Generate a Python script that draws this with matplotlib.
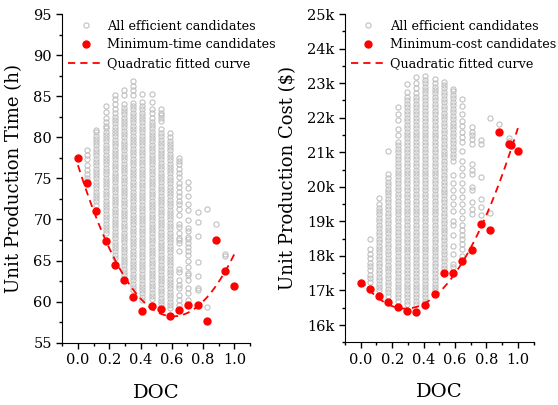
import numpy as np
import matplotlib.pyplot as plt
from matplotlib.ticker import MultipleLocator, FuncFormatter

plt.rcParams['font.family'] = ['DejaVu Serif']

doc = [0.0, 0.059, 0.118, 0.176, 0.235, 0.294, 0.353, 0.412, 0.471,
       0.529, 0.588, 0.647, 0.706, 0.765, 0.824, 0.882, 0.941, 1.0]

# efficient candidates per DOC value (index 1..16 of doc), time in h
time_candidates = [
    [74.7, 75.0, 75.5, 76.0, 76.6, 77.4, 77.8, 78.5],
    [71.8, 72.2, 72.6, 73.0, 73.4, 73.8, 74.2, 74.6, 75.0, 75.4, 75.8, 76.2, 76.6, 77.0, 77.4, 77.8,
     78.2, 78.6, 79.0, 79.4, 79.8, 80.2, 80.6, 80.9],
    [68.3, 68.7, 69.1, 69.5, 69.9, 70.3, 70.7, 71.1, 71.5, 71.9, 72.3, 72.7, 73.1, 73.5, 73.9, 74.3,
     74.7, 75.1, 75.5, 75.9, 76.3, 76.7, 77.1, 77.5, 77.9, 78.3, 78.7, 79.1, 79.5, 79.9, 80.3, 80.7,
     81.1, 81.4, 81.9, 82.3, 83.1, 83.8],
    [65.3, 65.7, 66.1, 66.5, 66.9, 67.3, 67.7, 68.1, 68.5, 68.9, 69.3, 69.7, 70.1, 70.5, 70.9, 71.3,
     71.7, 72.1, 72.5, 72.9, 73.3, 73.7, 74.1, 74.5, 74.9, 75.3, 75.7, 76.1, 76.5, 76.9, 77.3, 77.7,
     78.1, 78.5, 78.9, 79.3, 79.7, 80.1, 80.5, 80.9, 81.3, 81.7, 82.1, 82.5, 82.9, 83.5, 84.1, 84.7,
     85.1],
    [63.2, 63.6, 64.0, 64.4, 64.8, 65.2, 65.6, 66.0, 66.4, 66.8, 67.2, 67.6, 68.0, 68.4, 68.8, 69.2,
     69.6, 70.0, 70.4, 70.8, 71.2, 71.6, 72.0, 72.4, 72.8, 73.2, 73.6, 74.0, 74.4, 74.8, 75.2, 75.6,
     76.0, 76.4, 76.8, 77.2, 77.6, 78.0, 78.4, 78.8, 79.2, 79.6, 80.0, 80.4, 80.8, 81.2, 81.6, 82.0,
     82.4, 82.8, 83.2, 83.6, 84.1, 85.1, 85.7],
    [61.4, 61.8, 62.2, 62.6, 63.0, 63.4, 63.8, 64.2, 64.6, 65.0, 65.4, 65.8, 66.2, 66.6, 67.0, 67.4,
     67.8, 68.2, 68.6, 69.0, 69.4, 69.8, 70.2, 70.6, 71.0, 71.4, 71.8, 72.2, 72.6, 73.0, 73.4, 73.8,
     74.2, 74.6, 75.0, 75.4, 75.8, 76.2, 76.6, 77.0, 77.4, 77.8, 78.2, 78.6, 79.0, 79.4, 79.8, 80.2,
     80.6, 81.0, 81.4, 81.8, 82.2, 82.6, 83.0, 83.4, 83.8, 84.2, 85.1, 85.7, 86.3, 86.9],
    [60.2, 60.6, 61.0, 61.4, 61.8, 62.2, 62.6, 63.0, 63.4, 63.8, 64.2, 64.6, 65.0, 65.4, 65.8, 66.2,
     66.6, 67.0, 67.4, 67.8, 68.2, 68.6, 69.0, 69.4, 69.8, 70.2, 70.6, 71.0, 71.4, 71.8, 72.2, 72.6,
     73.0, 73.4, 73.8, 74.2, 74.6, 75.0, 75.4, 75.8, 76.2, 76.6, 77.0, 77.4, 77.8, 78.2, 78.6, 79.0,
     79.4, 79.8, 80.2, 80.6, 81.0, 81.4, 81.8, 82.2, 82.6, 83.0, 83.4, 83.8, 84.3, 85.3],
    [60.3, 60.7, 61.1, 61.5, 61.9, 62.3, 62.7, 63.1, 63.5, 63.9, 64.3, 64.7, 65.1, 65.5, 65.9, 66.3,
     66.7, 67.1, 67.5, 67.9, 68.3, 68.7, 69.1, 69.5, 69.9, 70.3, 70.7, 71.1, 71.5, 71.9, 72.3, 72.7,
     73.1, 73.5, 73.9, 74.3, 74.7, 75.1, 75.5, 75.9, 76.3, 76.7, 77.1, 77.5, 77.9, 78.3, 78.7, 79.1,
     79.5, 79.9, 80.3, 80.7, 81.1, 81.5, 81.9, 82.3, 82.9, 83.5, 84.3, 85.3],
    [59.7, 60.1, 60.5, 60.9, 61.3, 61.7, 62.1, 62.5, 62.9, 63.3, 63.7, 64.1, 64.5, 64.9, 65.3, 65.7,
     66.1, 66.5, 66.9, 67.3, 67.7, 68.1, 68.5, 68.9, 69.3, 69.7, 70.1, 70.5, 70.9, 71.3, 71.7, 72.1,
     72.5, 72.9, 73.3, 73.7, 74.1, 74.5, 74.9, 75.3, 75.7, 76.1, 76.5, 76.9, 77.3, 77.7, 78.1, 78.5,
     78.9, 79.3, 79.7, 80.1, 80.5, 81.0, 82.0, 82.3, 82.7, 83.0, 83.4],
    [59.2, 59.6, 60.0, 60.4, 60.8, 61.2, 61.6, 62.0, 62.4, 62.8, 63.2, 63.6, 64.0, 64.4, 64.8, 65.2,
     65.6, 66.0, 66.4, 66.8, 67.2, 67.6, 68.0, 68.4, 68.8, 69.2, 69.6, 70.0, 70.4, 70.8, 71.2, 71.6,
     72.0, 72.4, 72.8, 73.2, 73.6, 74.0, 74.4, 74.8, 75.2, 75.6, 76.0, 76.4, 76.8, 77.2, 77.6, 78.0,
     78.4, 78.8, 79.2, 79.6, 80.0, 80.5],
    [59.6, 60.2, 60.8, 61.6, 62.0, 62.6, 63.6, 64.0, 66.1, 67.1, 67.5, 67.7, 68.3, 69.1, 69.5, 70.5,
     71.3, 71.9, 72.3, 72.8, 73.3, 73.9, 74.4, 75.2, 75.7, 76.2, 76.7, 77.1, 77.5],
    [60.2, 61.0, 61.7, 62.6, 63.2, 63.5, 64.2, 64.9, 65.7, 66.1, 66.6, 67.1, 67.6, 67.9, 68.6, 68.9,
     69.9, 71.2, 71.9, 72.9, 73.8, 74.6],
    [61.4, 61.7, 63.1, 64.8, 68.0, 69.7, 70.9],
    [59.3, 71.3],
    [69.4],
    [65.5, 65.8],
]

# efficient candidates per DOC value (index 1..16 of doc), cost in k$
cost_candidates = [
    [17.25, 17.35, 17.45, 17.6, 17.7, 17.8, 17.95, 18.05, 18.2, 18.5],
    [17.0, 17.1, 17.2, 17.3, 17.4, 17.5, 17.6, 17.7, 17.8, 17.9, 18.0, 18.1, 18.2, 18.3, 18.4, 18.5,
     18.6, 18.7, 18.8, 18.9, 19.0, 19.1, 19.2, 19.3, 19.4, 19.5, 19.67],
    [16.85, 16.95, 17.05, 17.15, 17.25, 17.35, 17.45, 17.55, 17.65, 17.75, 17.85, 17.95, 18.05,
     18.15, 18.25, 18.35, 18.45, 18.55, 18.65, 18.75, 18.85, 18.95, 19.05, 19.15, 19.25, 19.35,
     19.45, 19.55, 19.65, 19.75, 19.85, 19.95, 20.05, 20.15, 20.25, 20.38, 21.05],
    [16.7, 16.8, 16.9, 17.0, 17.1, 17.2, 17.3, 17.4, 17.5, 17.6, 17.7, 17.8, 17.9, 18.0, 18.1, 18.2,
     18.3, 18.4, 18.5, 18.6, 18.7, 18.8, 18.9, 19.0, 19.1, 19.2, 19.3, 19.4, 19.5, 19.6, 19.7, 19.8,
     19.9, 20.0, 20.1, 20.2, 20.3, 20.4, 20.5, 20.6, 20.7, 20.8, 20.9, 21.0, 21.1, 21.2, 21.3, 21.5,
     21.68, 21.92, 22.1, 22.3],
    [16.6, 16.7, 16.8, 16.9, 17.0, 17.1, 17.2, 17.3, 17.4, 17.5, 17.6, 17.7, 17.8, 17.9, 18.0, 18.1,
     18.2, 18.3, 18.4, 18.5, 18.6, 18.7, 18.8, 18.9, 19.0, 19.1, 19.2, 19.3, 19.4, 19.5, 19.6, 19.7,
     19.8, 19.9, 20.0, 20.1, 20.2, 20.3, 20.4, 20.5, 20.6, 20.7, 20.8, 20.9, 21.0, 21.1, 21.2, 21.3,
     21.4, 21.5, 21.6, 21.7, 21.8, 21.9, 22.0, 22.1, 22.2, 22.3, 22.4, 22.5, 22.6, 22.75, 22.97],
    [16.6, 16.7, 16.8, 16.9, 17.0, 17.1, 17.2, 17.3, 17.4, 17.5, 17.6, 17.7, 17.8, 17.9, 18.0, 18.1,
     18.2, 18.3, 18.4, 18.5, 18.6, 18.7, 18.8, 18.9, 19.0, 19.1, 19.2, 19.3, 19.4, 19.5, 19.6, 19.7,
     19.8, 19.9, 20.0, 20.1, 20.2, 20.3, 20.4, 20.5, 20.6, 20.7, 20.8, 20.9, 21.0, 21.1, 21.2, 21.3,
     21.4, 21.5, 21.6, 21.7, 21.8, 21.9, 22.0, 22.1, 22.2, 22.3, 22.4, 22.5, 22.6, 22.7, 22.85,
     23.0, 23.18],
    [16.7, 16.8, 16.9, 17.0, 17.1, 17.2, 17.3, 17.4, 17.5, 17.6, 17.7, 17.8, 17.9, 18.0, 18.1, 18.2,
     18.3, 18.4, 18.5, 18.6, 18.7, 18.8, 18.9, 19.0, 19.1, 19.2, 19.3, 19.4, 19.5, 19.6, 19.7, 19.8,
     19.9, 20.0, 20.1, 20.2, 20.3, 20.4, 20.5, 20.6, 20.7, 20.8, 20.9, 21.0, 21.1, 21.2, 21.3, 21.4,
     21.5, 21.6, 21.7, 21.8, 21.9, 22.0, 22.1, 22.2, 22.3, 22.4, 22.5, 22.6, 22.7, 22.8, 22.9, 23.0,
     23.1, 23.22],
    [17.0, 17.1, 17.2, 17.3, 17.4, 17.5, 17.6, 17.7, 17.8, 17.9, 18.0, 18.1, 18.2, 18.3, 18.4, 18.5,
     18.6, 18.7, 18.8, 18.9, 19.0, 19.1, 19.2, 19.3, 19.4, 19.5, 19.6, 19.7, 19.8, 19.9, 20.0, 20.1,
     20.2, 20.3, 20.4, 20.5, 20.6, 20.7, 20.8, 20.9, 21.0, 21.1, 21.2, 21.3, 21.4, 21.5, 21.6, 21.7,
     21.8, 21.9, 22.0, 22.1, 22.2, 22.3, 22.4, 22.5, 22.6, 22.7, 22.8, 22.9, 23.0, 23.12],
    [17.65, 17.75, 17.85, 17.95, 18.05, 18.15, 18.25, 18.35, 18.45, 18.55, 18.65, 18.75, 18.85,
     18.95, 19.05, 19.15, 19.25, 19.35, 19.45, 19.55, 19.65, 19.75, 19.85, 19.95, 20.05, 20.15,
     20.25, 20.35, 20.45, 20.55, 20.65, 20.75, 20.85, 20.95, 21.05, 21.15, 21.25, 21.35, 21.45,
     21.55, 21.65, 21.75, 21.85, 21.95, 22.05, 22.15, 22.25, 22.35, 22.45, 22.55, 22.65, 22.75,
     22.85, 22.95, 23.03],
    [17.67, 17.77, 18.06, 18.3, 18.6, 18.9, 19.0, 19.31, 19.5, 19.7, 19.9, 20.1, 20.33, 20.76,
     20.86, 20.96, 21.06, 21.16, 21.26, 21.36, 21.46, 21.56, 21.66, 21.76, 21.86, 21.96, 22.06,
     22.16, 22.26, 22.36, 22.46, 22.56, 22.66, 22.76, 22.84],
    [18.0, 18.2, 18.35, 18.5, 18.6, 18.75, 18.9, 19.1, 19.3, 19.5, 19.7, 19.9, 20.1, 20.33, 20.55,
     20.76, 21.05, 21.3, 21.44, 21.6, 21.75, 21.9, 22.12, 22.35, 22.55],
    [19.2, 19.35, 19.55, 19.9, 20.0, 20.38, 20.5, 20.67, 21.25, 21.37, 21.49, 21.6, 21.73],
    [19.17, 19.41, 19.65, 20.28, 21.25, 21.34],
    [19.24, 21.99],
    [21.83],
    [21.32, 21.42],
]

# minimum candidates for every DOC value
time_min = [77.5, 74.4, 71.0, 67.4, 64.5, 62.6, 60.6, 58.9, 59.5, 59.1, 58.3, 59.0, 59.6, 59.6,
            57.7, 67.5, 63.7, 61.85]
cost_min_doc = [0.0, 0.059, 0.118, 0.176, 0.235, 0.294, 0.353, 0.412, 0.471, 0.529, 0.588,
                0.647, 0.706, 0.765, 0.824, 0.882, 0.941, 0.953, 1.0]
cost_min = [17.22, 17.04, 16.84, 16.67, 16.51, 16.41, 16.39, 16.58, 16.90, 17.52, 17.52, 17.86,
            18.18, 18.93, 18.74, 21.58, 21.23, 21.22, 21.03]

# quadratic fit coefficients (c2, c1, c0)
time_fit = [49.6, -60.4, 76.6]
cost_fit = [10.2, -5.8, 17.3]

grey = '#c0c0c0'
red = '#ff0000'


def draw(ax, cand, mdoc, mvals, fit, min_label):
    xs = []
    ys = []
    for i, col in enumerate(cand):
        xs += [doc[i + 1]] * len(col)
        ys += col
    ax.plot(xs, ys, 'o', ls='none', ms=3.7, mfc='none', mec=grey, mew=0.8,
            label='All efficient candidates')
    ax.plot(mdoc, mvals, 'o', ls='none', ms=5, color=red, label=min_label)
    xf = np.linspace(0, 1, 100)
    ax.plot(xf, np.polyval(fit, xf), color=red, lw=1.3, dashes=(4, 2.8),
            label='Quadratic fitted curve')
    ax.set_xlim(-0.1, 1.1)
    ax.xaxis.set_major_locator(MultipleLocator(0.2))
    ax.xaxis.set_minor_locator(MultipleLocator(0.1))
    ax.spines['top'].set_visible(False)
    ax.spines['right'].set_visible(False)
    ax.tick_params(which='major', direction='out', length=4, width=1, labelsize=10.5)
    ax.tick_params(which='minor', direction='out', length=2.5, width=1)
    ax.set_xlabel('DOC', fontsize=14, labelpad=12)
    ax.legend(loc='upper left', bbox_to_anchor=(0.03, 0.983), frameon=False,
              borderpad=0, borderaxespad=0, fontsize=9.2, handlelength=2.75,
              handletextpad=0.3, labelspacing=0.45)


fig = plt.figure(figsize=(5.58, 4.05), dpi=100)
ax1 = fig.add_axes([0.1117, 0.1538, 0.3364, 0.8116])
ax2 = fig.add_axes([0.6183, 0.1548, 0.338, 0.8106])

draw(ax1, time_candidates, doc, time_min, time_fit, 'Minimum-time candidates')
ax1.set_ylim(55, 95)
ax1.yaxis.set_major_locator(MultipleLocator(5))
ax1.yaxis.set_minor_locator(MultipleLocator(2.5))
ax1.set_ylabel('Unit Production Time (h)', fontsize=13, labelpad=7)

draw(ax2, cost_candidates, cost_min_doc, cost_min, cost_fit, 'Minimum-cost candidates')
ax2.set_ylim(15.5, 25)
ax2.yaxis.set_major_locator(MultipleLocator(1))
ax2.yaxis.set_minor_locator(MultipleLocator(0.5))
ax2.yaxis.set_major_formatter(FuncFormatter(lambda v, p: f'{v:g}k'))
ax2.set_ylabel('Unit Production Cost (\\$)', fontsize=13, labelpad=7)

fig.savefig('out.png', dpi=100)
